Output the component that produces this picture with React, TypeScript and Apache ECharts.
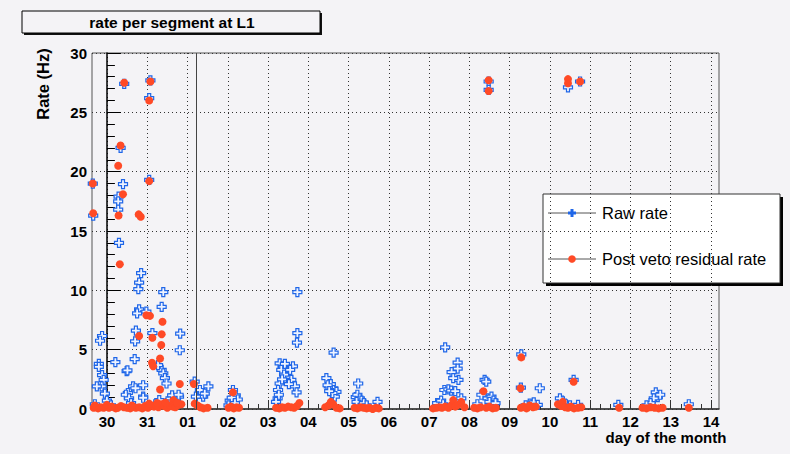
import React, { useEffect, useRef } from "react";
import * as echarts from "echarts";

const dayLabels = ["30", "31", "01", "02", "03", "04", "05", "06", "07", "08", "09", "10", "11", "12", "13", "14"];
const yTicks = [0, 5, 10, 15, 20, 25, 30];
const boundaryDay = 2.235;

const rawRate: number[][] = [
  [0.43, 27.4], [1.08, 27.7], [1.05, 26.2], [0.34, 22.0], [1.05, 19.3], [-0.35, 19.0], [-0.34, 16.3],
  [9.48, 27.6], [9.48, 26.9], [11.45, 27.1], [11.75, 27.6], [10.29, 4.6],
  [0.4, 18.95], [0.29, 17.9], [0.28, 17.5], [0.28, 16.8], [0.3, 14.0], [0.85, 11.45], [0.8, 10.65], [0.78, 10.1],
  [1.4, 9.85], [1.36, 8.6], [0.8, 8.4], [0.75, 8.05], [0.98, 8.2], [-0.12, 6.15], [-0.17, 5.75], [0.72, 6.6],
  [0.7, 5.7], [1.13, 6.4], [1.82, 6.35], [1.81, 4.95], [0.21, 3.95], [0.49, 3.2], [0.51, 3.25], [0.69, 4.2],
  [-0.2, 3.8], [-0.2, 3.55], [-0.12, 2.85], [-0.08, 2.45], [-0.13, 1.9], [-0.25, 1.9], [-0.05, 1.3], [0.0, 0.7],
  [0.9, 2.0], [0.65, 1.9], [0.71, 1.75], [0.52, 1.35], [0.47, 1.2], [0.55, 0.9], [0.9, 1.05], [0.9, 0.95],
  [1.36, 3.3], [1.4, 3.0], [1.44, 2.6], [1.48, 2.15], [1.27, 3.7], [1.56, 0.75], [1.64, 0.5], [1.79, 1.05],
  [1.58, 0.9], [1.62, 1.15], [1.78, 1.2], [1.3, 0.75], [1.2, 0.4], [-0.3, 0.4], [0.1, 0.3], [0.6, 0.5],
  [2.18, 2.3], [2.31, 1.6], [2.39, 1.05], [2.52, 1.9], [2.43, 1.3], [2.21, 1.05],
  [3.13, 1.6], [3.2, 1.15], [3.25, 0.8], [3.05, 0.7], [3.1, 0.95], [3.18, 0.5], [3.02, 0.3],
  [4.73, 9.85], [4.73, 6.4], [4.72, 5.6], [4.29, 3.85], [4.37, 3.55], [4.46, 3.15], [4.5, 2.7], [4.58, 2.45],
  [4.62, 3.6], [4.67, 1.9], [4.71, 1.4], [4.29, 2.15], [4.25, 1.6], [4.24, 0.9], [4.33, 3.3], [4.4, 2.9],
  [4.42, 3.8], [4.55, 3.3], [4.35, 2.5], [4.52, 2.1], [4.27, 1.2], [4.2, 0.6],
  [5.63, 4.75], [5.45, 2.6], [5.51, 1.9], [5.62, 1.75], [5.7, 1.45], [5.66, 1.05], [5.56, 2.1], [5.48, 2.0],
  [5.6, 1.35], [5.52, 1.5],
  [6.24, 2.15], [6.18, 1.0], [6.22, 1.2], [6.28, 0.9], [6.32, 0.7], [6.2, 0.6], [6.38, 0.5], [6.72, 0.6], [6.45, 0.3],
  [8.4, 5.2], [8.71, 3.9], [8.71, 3.4], [8.56, 3.1], [8.73, 2.45], [8.6, 2.6], [8.38, 1.6], [8.48, 1.65],
  [8.55, 1.55], [8.65, 1.5], [8.2, 0.5], [8.3, 0.7], [8.35, 0.4], [8.8, 0.9],
  [9.38, 2.45], [9.42, 2.3], [9.45, 0.9], [9.55, 1.05], [9.6, 0.7], [9.5, 0.6], [9.2, 0.4], [9.3, 1.2], [9.65, 0.5],
  [10.28, 1.8], [10.75, 1.75], [10.5, 0.45], [10.4, 0.3], [10.6, 0.55], [10.7, 0.35],
  [11.59, 2.45], [11.3, 0.7], [11.25, 0.9], [11.4, 0.4], [11.5, 0.3], [11.7, 0.35],
  [12.7, 0.35],
  [13.63, 1.4], [13.68, 1.0], [13.74, 1.2], [13.58, 0.9], [13.5, 0.5], [13.4, 0.3],
  [14.45, 0.4],
];

const postVeto: number[][] = [
  [-0.35, 19.0], [-0.34, 16.5], [0.43, 27.5], [1.08, 27.6], [1.05, 26.0], [0.34, 22.2], [0.28, 20.5],
  [1.05, 19.2], [0.4, 18.1], [0.29, 16.3], [0.79, 16.4], [0.84, 16.2], [0.32, 12.2], [0.8, 6.15],
  [0.98, 7.9], [1.07, 7.85], [1.13, 6.0], [1.38, 7.35], [1.36, 6.3], [1.35, 5.4], [1.32, 4.25],
  [1.12, 3.9], [1.15, 3.6], [1.32, 1.65], [1.81, 2.1], [2.16, 2.1], [1.65, 0.75],
  [-0.33, 0.1], [-0.28, 0.2], [-0.22, 0.05], [-0.15, 0.15], [-0.08, 0.1], [-0.02, 0.2], [0.05, 0.1],
  [0.22, 0.05], [0.27, 0.1], [0.42, 0.15], [0.5, 0.1], [0.58, 0.05], [0.65, 0.2], [0.72, 0.1], [0.8, 0.15],
  [0.88, 0.05], [0.95, 0.25], [1.02, 0.1], [1.1, 0.3], [1.17, 0.2], [1.22, 0.35], [1.28, 0.15], [1.35, 0.4],
  [1.42, 0.25], [1.5, 0.1], [1.58, 0.3], [1.64, 0.2], [1.7, 0.15], [1.78, 0.35], [1.85, 0.4],
  [-0.3, 0.3], [0.0, 0.35], [0.12, 0.2], [0.35, 0.25], [0.62, 0.3], [1.05, 0.45], [1.25, 0.5], [1.45, 0.55], [1.75, 0.5],
  [2.18, 0.45], [2.25, 0.3], [2.32, 0.15], [2.4, 0.05], [2.5, 0.1],
  [3.02, 0.1], [3.08, 0.2], [3.15, 0.05], [3.22, 0.15], [3.28, 0.1], [3.13, 1.4],
  [4.2, 0.1], [4.28, 0.05], [4.35, 0.15], [4.42, 0.1], [4.5, 0.2], [4.58, 0.15], [4.65, 0.1], [4.72, 0.25], [4.78, 0.5],
  [5.42, 0.15], [5.5, 0.3], [5.56, 0.6], [5.62, 0.4], [5.7, 0.1], [5.78, 0.05],
  [6.15, 0.1], [6.22, 0.05], [6.3, 0.15], [6.38, 0.1], [6.45, 0.05], [6.52, 0.1], [6.6, 0.0], [6.68, 0.1], [6.75, 0.05],
  [8.1, 0.05], [8.18, 0.1], [8.25, 0.15], [8.32, 0.1], [8.4, 0.2], [8.48, 0.1], [8.55, 0.3], [8.6, 0.75],
  [8.65, 0.2], [8.72, 0.35], [8.8, 0.6], [8.88, 0.15],
  [9.12, 0.1], [9.2, 0.05], [9.28, 0.15], [9.35, 1.5], [9.42, 0.1], [9.5, 0.2], [9.58, 0.05], [9.66, 0.1],
  [9.48, 27.7], [9.48, 26.8],
  [10.27, 1.75], [10.29, 4.35], [10.28, 0.1], [10.35, 0.2], [10.42, 0.05], [10.5, 0.3], [10.58, 0.15], [10.65, 0.2],
  [11.2, 0.4], [11.28, 0.25], [11.32, 0.6], [11.38, 0.15], [11.45, 0.1], [11.52, 0.2], [11.6, 0.05], [11.7, 0.1],
  [11.78, 0.15], [11.59, 2.3], [11.45, 27.8], [11.45, 27.45], [11.75, 27.6],
  [12.72, 0.1],
  [13.3, 0.1], [13.4, 0.05], [13.5, 0.15], [13.6, 0.1], [13.7, 0.05], [13.8, 0.1],
  [14.45, 0.1],
];

const FONT = "'Liberation Sans', Arial, Helvetica, sans-serif";
const CROSS = "path://M3,0H6V3H9V6H6V9H3V6H0V3H3Z";
const BLUE = "#1f66e8";
const RED = "#ff4a26";

export default function App() {
  const ref = useRef<HTMLDivElement>(null);
  useEffect(() => {
    document.body.style.margin = "0";
    document.body.style.background = "#f5f4f7";
    const chart = echarts.init(ref.current!, null, { renderer: "svg" });
    const dotted = { type: [1, 3] as any, color: "#333", width: 1 };
    chart.setOption({
      animation: false,
      backgroundColor: "#f4f3f6",
      grid: [
        { left: 92, right: 71, top: 53, bottom: 45, show: true, borderColor: "#555", borderWidth: 1, backgroundColor: "transparent" },
        { left: 107, right: 79, top: 53, bottom: 45 },
      ],
      xAxis: [
        {
          type: "value", gridIndex: 0, min: -0.37, max: 15.2,
          axisLine: { show: true, onZero: false, lineStyle: { color: "#333", width: 1.5 } },
          axisTick: { show: false }, axisLabel: { show: false }, splitLine: { show: false },
        },
        {
          type: "value", gridIndex: 1, min: 0, max: 15, interval: 1,
          axisLine: { show: false },
          axisTick: { show: true, inside: true, length: 9, lineStyle: { color: "#333" } },
          minorTick: { show: true, splitNumber: 4, length: 5, lineStyle: { color: "#333" } },
          axisLabel: {
            formatter: (v: number) => dayLabels[Math.round(v)] ?? "",
            fontFamily: FONT, fontWeight: "bold", fontSize: 15, lineHeight: 13, color: "#000", margin: 6,
          },
          splitLine: { show: true, lineStyle: dotted },
        },
      ],
      yAxis: [
        {
          type: "value", gridIndex: 0, min: 0, max: 30, interval: 5,
          axisLine: { show: true, lineStyle: { color: "#000", width: 1.5 } },
          axisTick: { show: true, inside: true, length: 14, lineStyle: { color: "#000" } },
          minorTick: { show: true, splitNumber: 5, length: 8, lineStyle: { color: "#000" } },
          axisLabel: {
            formatter: (v: number) => (yTicks.includes(v) ? String(v) : ""),
            fontFamily: FONT, fontWeight: "bold", fontSize: 15, color: "#000", margin: 5,
          },
          splitLine: { show: true, lineStyle: dotted },
        },
        { type: "value", gridIndex: 1, min: 0, max: 30, show: false },
      ],
      series: [
        {
          name: "Raw rate", type: "scatter", xAxisIndex: 0, yAxisIndex: 0,
          data: rawRate, symbol: CROSS, symbolSize: 9,
          itemStyle: { color: "#eef3ff", borderColor: BLUE, borderWidth: 1.2, opacity: 1 },
          markLine: {
            silent: true, symbol: "none", label: { show: false },
            lineStyle: { color: "#444", width: 1, type: "solid" },
            data: [{ xAxis: boundaryDay }],
          },
        },
        {
          name: "Post veto residual rate", type: "scatter", xAxisIndex: 0, yAxisIndex: 0,
          data: postVeto, symbol: "circle", symbolSize: 8,
          itemStyle: { color: RED, opacity: 1 },
        },
      ],
      graphic: [
        { type: "rect", shape: { x: 24, y: 13, width: 298, height: 22 }, style: { fill: "#111" } },
        { type: "rect", shape: { x: 22, y: 11, width: 298, height: 22 }, style: { fill: "#f4f3f6", stroke: "#000", lineWidth: 1 } },
        {
          type: "text", x: 172, y: 22,
          style: { text: "rate per segment at L1", font: `bold 15.5px ${FONT}`, fill: "#000", align: "center", verticalAlign: "middle" },
        },
        {
          type: "text", x: 43, y: 84, rotation: Math.PI / 2,
          style: { text: "Rate (Hz)", font: `bold 16.5px ${FONT}`, fill: "#000", align: "center", verticalAlign: "middle" },
        },
        {
          type: "text", x: 666, y: 437,
          style: { text: "day of the month", font: `bold 15px ${FONT}`, lineHeight: 13, fill: "#000", align: "center", verticalAlign: "middle" },
        },
        { type: "rect", shape: { x: 546, y: 197, width: 237, height: 89 }, style: { fill: "#000" } },
        { type: "rect", shape: { x: 543, y: 194, width: 237, height: 89 }, style: { fill: "#fff", stroke: "#333", lineWidth: 1 } },
        { type: "line", shape: { x1: 548, y1: 213, x2: 596, y2: 213 }, style: { stroke: "#555", lineWidth: 1 } },
        { type: "line", shape: { x1: 548, y1: 259, x2: 596, y2: 259 }, style: { stroke: "#555", lineWidth: 1 } },
        { type: "rect", shape: { x: 570.5, y: 209, width: 3, height: 8 }, style: { fill: BLUE } },
        { type: "rect", shape: { x: 568, y: 211.5, width: 8, height: 3 }, style: { fill: BLUE } },
        { type: "circle", shape: { cx: 572, cy: 259, r: 3.8 }, style: { fill: RED } },
        {
          type: "text", x: 602, y: 213,
          style: { text: "Raw rate", font: `16.5px ${FONT}`, fill: "#000", align: "left", verticalAlign: "middle" },
        },
        {
          type: "text", x: 602, y: 259,
          style: { text: "Post veto residual rate", font: `16.5px ${FONT}`, fill: "#000", align: "left", verticalAlign: "middle" },
        },
      ],
    });
    return () => chart.dispose();
  }, []);
  return <div ref={ref} style={{ width: 790, height: 454 }} />;
}
